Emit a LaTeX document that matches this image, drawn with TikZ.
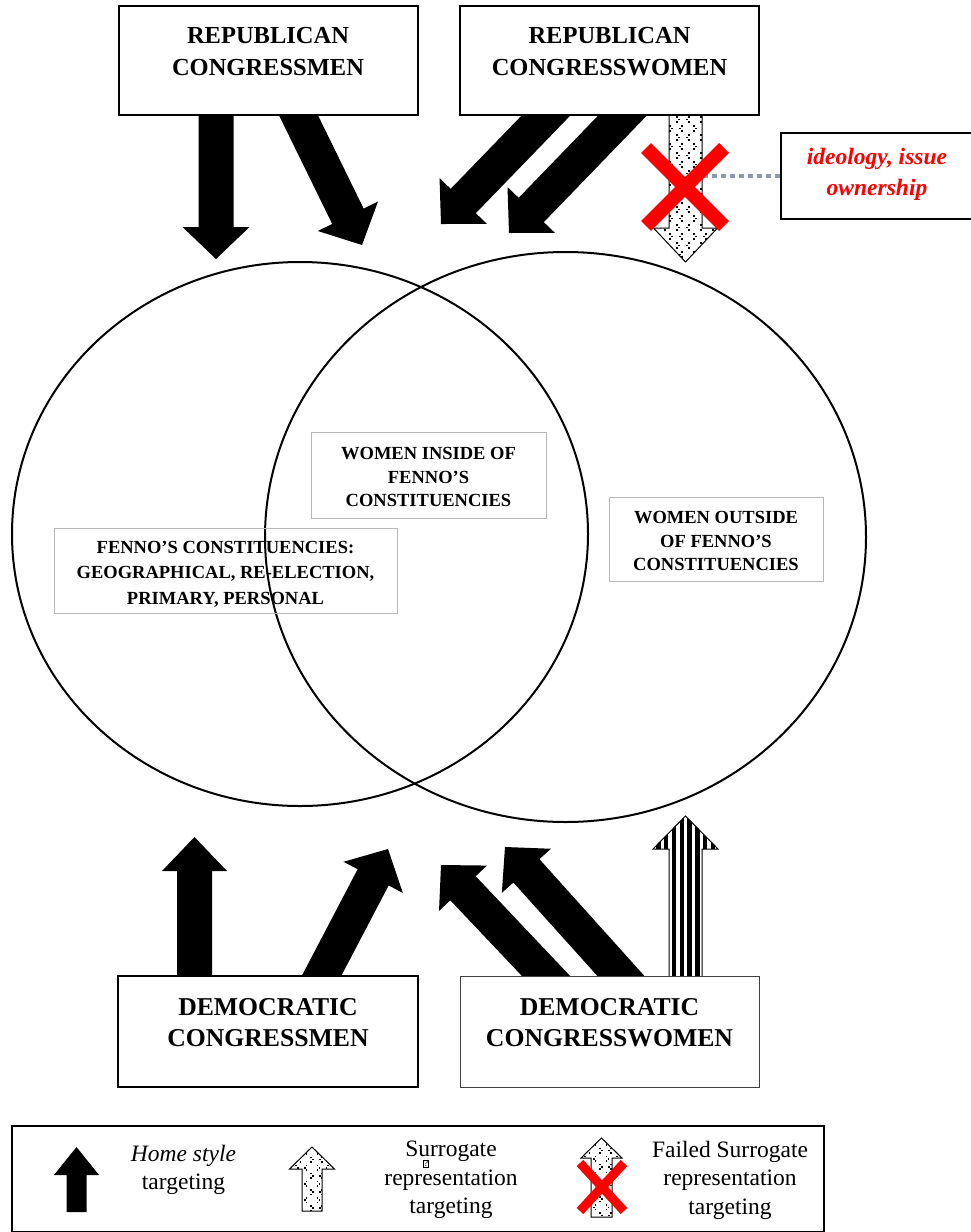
\documentclass[tikz,border=0pt]{standalone}
\usepackage{fontspec}
\setmainfont{Liberation Serif}
\usetikzlibrary{calc,shapes.geometric}
\newcommand\mkarrow[6]{%
 \coordinate (#1-b) at ($(#3)!#6!(#2)$);
 \coordinate (#1-1) at ($(#2)!#4!90:(#3)$);
 \coordinate (#1-2) at ($(#1-b)!#4!90:(#3)$);
 \coordinate (#1-3) at ($(#1-b)!#5!90:(#3)$);
 \coordinate (#1-4) at (#3);
 \coordinate (#1-5) at ($(#1-b)!#5!-90:(#3)$);
 \coordinate (#1-6) at ($(#1-b)!#4!-90:(#3)$);
 \coordinate (#1-7) at ($(#2)!#4!-90:(#3)$);
}
\newcommand\speckle[5]{%
 \foreach \k in {0,...,#4}{%
  \foreach \j in {0,...,#3}{%
   \pgfmathsetmacro\xx{#1+\j*12*#5+mod(\k,2)*5*#5}%
   \pgfmathsetmacro\yy{#2+\k*9*#5}%
   \pgfmathsetmacro\dd{1-2*mod(\k+\j,2)}%
   \fill (\xx,\yy) rectangle ++(1.6,-1.6);
   \fill (\xx+1.9*\dd,\yy+2.3) rectangle ++(1.6,-1.6);
   \fill (\xx,\yy+4.6) rectangle ++(1.6,-1.6);
  }}}
\tikzset{
 apath/.style={insert path={(#1-1) -- (#1-2) -- (#1-3) -- (#1-4) -- (#1-5) -- (#1-6) -- (#1-7) -- cycle}},
 titlebox/.style={draw, line width=2pt, fill=white, inner sep=0pt},
 thinbox/.style={draw=black!75, line width=1pt, fill=white, inner sep=0pt},
 txtbox/.style={draw=black!28, line width=1pt, inner sep=0pt},
 reptext/.style={font=\fontsize{24.5}{32}\selectfont\bfseries, align=center, inner sep=0pt},
 demtext/.style={font=\fontsize{25.7}{31}\selectfont\bfseries, align=center, inner sep=0pt},
 smalltext/.style={font=\fontsize{18.5}{23.2}\selectfont\bfseries, align=center, inner sep=0pt},
 legtext/.style={font=\fontsize{23.5}{28.5}\selectfont, align=center, inner sep=0pt},
 circ/.style={draw, ellipse, line width=2pt, inner sep=0pt},
 xmark/.style={draw=red, line width=#1},
 dashline/.style={draw={rgb,255:red,140;green,152;blue,172}, line width=3.5pt, dash pattern=on 5pt off 4pt},
}
\begin{document}
\begin{tikzpicture}[x=1pt,y=-1pt]
\useasboundingbox (0,0) rectangle (971,1232);
% circles
\node[circ, minimum width=576pt, minimum height=544pt] (cl) at (300,534) {};
\node[circ, minimum width=601pt, minimum height=570pt] (cr) at (565.5,537) {};
% text boxes inside circles
\node[txtbox, minimum width=235pt, minimum height=86pt] (wi) at (428.5,475) {};
\node[smalltext] (wit) at (428.5,477) {WOMEN INSIDE OF\\FENNO’S\\CONSTITUENCIES};
\node[txtbox, minimum width=343pt, minimum height=85pt] (fb) at (225.5,570.5) {};
\node[smalltext, font=\fontsize{18.5}{25.5}\selectfont\bfseries] (fbt) at (225.5,574) {FENNO’S CONSTITUENCIES:\\GEOGRAPHICAL, RE-ELECTION,\\PRIMARY, PERSONAL};
\node[txtbox, minimum width=214pt, minimum height=84pt] (wo) at (716,539) {};
\node[smalltext] (wot) at (716,541) {WOMEN OUTSIDE\\OF FENNO’S\\CONSTITUENCIES};
% arrow geometry
\coordinate (A-t) at (216,100);   \coordinate (A-p) at (216,259);
\coordinate (B-t) at (290,98);    \coordinate (B-p) at (362,245);
\coordinate (C-t) at (561,100);   \coordinate (C-p) at (441,224);
\coordinate (D-t) at (637.5,100); \coordinate (D-p) at (509,233);
\coordinate (E-t) at (685.5,100); \coordinate (E-p) at (685.5,262);
\coordinate (F-t) at (194.5,995); \coordinate (F-p) at (194.5,837);
\coordinate (G-t) at (311.5,995); \coordinate (G-p) at (388,849);
\coordinate (H-t) at (564,995);   \coordinate (H-p) at (441,865);
\coordinate (I-t) at (638,995);   \coordinate (I-p) at (505,847);
\coordinate (J-t) at (685.5,995); \coordinate (J-p) at (685.5,816);
\mkarrow{A}{A-t}{A-p}{17.5pt}{33.5pt}{32pt}
\mkarrow{B}{B-t}{B-p}{17.5pt}{33.5pt}{32pt}
\mkarrow{C}{C-t}{C-p}{17.5pt}{33pt}{32pt}
\mkarrow{D}{D-t}{D-p}{17.5pt}{33pt}{32pt}
\mkarrow{E}{E-t}{E-p}{16.5pt}{32pt}{34pt}
\mkarrow{F}{F-t}{F-p}{17.5pt}{32.5pt}{34pt}
\mkarrow{G}{G-t}{G-p}{17.5pt}{33.5pt}{32pt}
\mkarrow{H}{H-t}{H-p}{17.5pt}{33pt}{32pt}
\mkarrow{I}{I-t}{I-p}{17.5pt}{33pt}{32pt}
\mkarrow{J}{J-t}{J-p}{16.5pt}{32.5pt}{33pt}
% black arrows
\foreach \a in {A,B,C,D,F,G,H,I}{\fill[apath=\a];}
% dotted arrow (failed)
\fill[white, apath=E];
\begin{scope}
 \clip[apath=E];
 \speckle{652}{100}{6}{18}{1}
\end{scope}
\draw[line width=1pt, apath=E];
% striped arrow
\fill[white, apath=J];
\begin{scope}
 \clip[apath=J];
 \foreach \i in {-3,...,6}{\fill (671.7+\i*7.8,810) rectangle ++(4.4,190);}
\end{scope}
\draw[line width=1pt, apath=J];
% actor boxes
\node[titlebox, minimum width=299pt, minimum height=109pt] (rm) at (268,60.5) {};
\node[reptext] (rmt) at (268,52) {REPUBLICAN\\CONGRESSMEN};
\node[titlebox, minimum width=299pt, minimum height=109pt] (rw) at (609.5,60.5) {};
\node[reptext] (rwt) at (609.5,52) {REPUBLICAN\\CONGRESSWOMEN};
\node[titlebox, minimum width=300pt, minimum height=111pt] (dm) at (268,1031.5) {};
\node[demtext] (dmt) at (268,1023) {DEMOCRATIC\\CONGRESSMEN};
\node[thinbox, minimum width=299pt, minimum height=111pt] (dw) at (609.5,1031.5) {};
\node[demtext] (dwt) at (609.5,1023) {DEMOCRATIC\\CONGRESSWOMEN};
% ideology box
\node[titlebox, minimum width=194pt, minimum height=86pt] (ib) at (878,176) {};
\node[font=\fontsize{23.5}{31}\selectfont\bfseries\itshape, text=red, align=center, inner sep=0pt] (ibt) at (877,174) {ideology, issue\\ownership};
\coordinate (dashend) at (704,176);
\draw[dashline] (ib.west) -- (dashend);
% red cross
\draw[xmark=14pt] (646,148) -- (724,226);
\draw[xmark=14pt] (724,148) -- (646,226);
% legend
\node[draw, line width=2pt, minimum width=812pt, minimum height=106pt, inner sep=0pt] (leg) at (417.5,1179) {};
\coordinate (L1-t) at (76.5,1212); \coordinate (L1-p) at (76.5,1147);
\coordinate (L2-t) at (312,1211);  \coordinate (L2-p) at (312,1147);
\coordinate (L3-t) at (601.5,1217); \coordinate (L3-p) at (601.5,1138);
\mkarrow{L1}{L1-t}{L1-p}{10pt}{22.5pt}{28pt}
\mkarrow{L2}{L2-t}{L2-p}{10pt}{22.5pt}{22pt}
\mkarrow{L3}{L3-t}{L3-p}{10.5pt}{20.5pt}{20pt}
\fill[apath=L1];
\fill[white, apath=L2];
\begin{scope}
 \clip[apath=L2];
 \speckle{295}{1150}{4}{8}{0.9}
\end{scope}
\draw[line width=1pt, apath=L2];
\fill[white, apath=L3];
\begin{scope}
 \clip[apath=L3];
 \speckle{584}{1141}{4}{9}{0.9}
\end{scope}
\draw[line width=1pt, apath=L3];
\draw[xmark=9pt] (580,1163) -- (624,1211);
\draw[xmark=9pt] (624,1163) -- (580,1211);
\node[legtext] (lt1) at (183.5,1170) {\textit{Home style}\\targeting};
\node[legtext] (lt2) at (451,1180) {Surrogate\\representation\\targeting};
\node[draw, line width=0.6pt, inner sep=0.5pt, font=\fontsize{9}{9}\selectfont] (qbox) at (426,1164) {?};
\node[legtext] (lt3) at (730,1180) {Failed Surrogate\\representation\\targeting};
\end{tikzpicture}
\end{document}
